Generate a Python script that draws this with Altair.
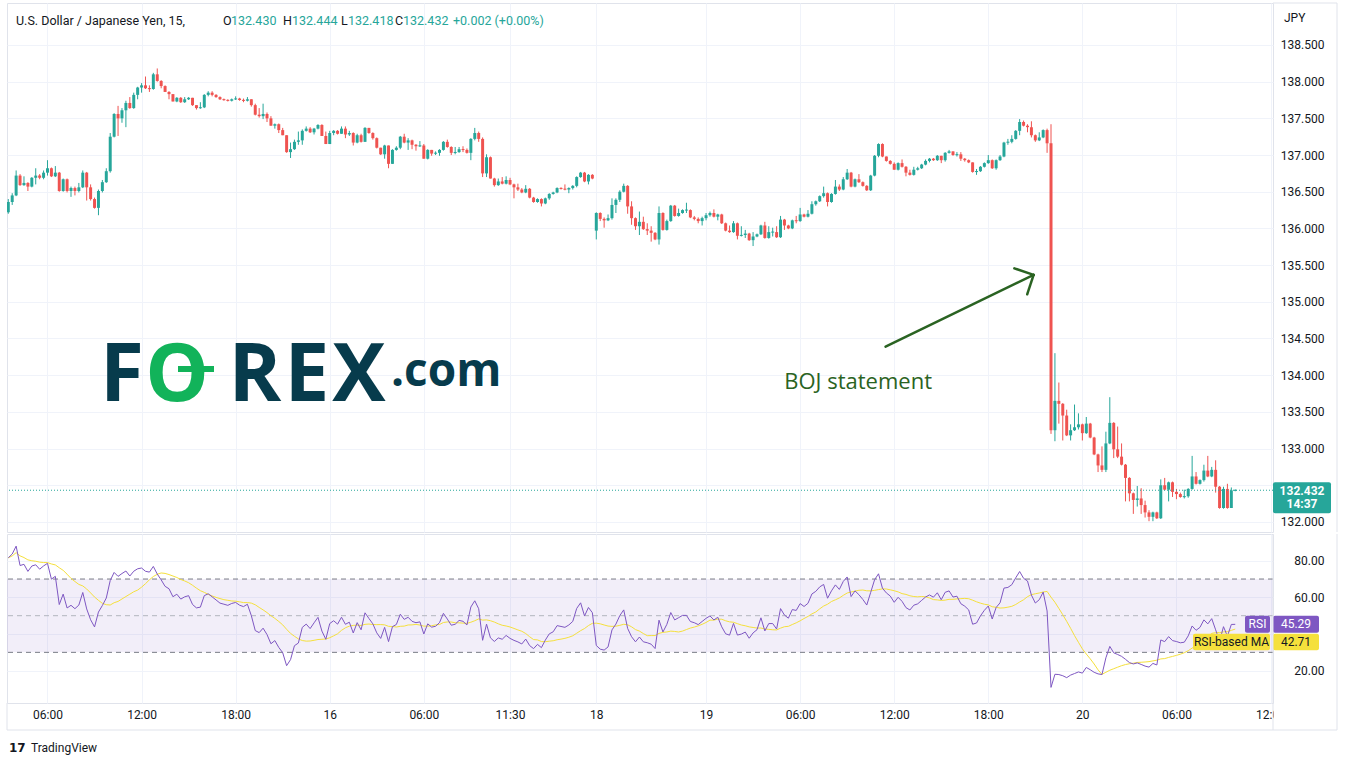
import altair as alt
import numpy as np
import pandas as pd

# USD/JPY 15-minute candles, one entry per session bar (Dec 15 03:30 -> Dec 20 09:45)
closes = [
    136.36, 136.45, 136.72, 136.59, 136.62, 136.57, 136.69, 136.72, 136.69, 136.76,
    136.82, 136.71, 136.76, 136.51, 136.67, 136.51, 136.55, 136.51, 136.56, 136.76,
    136.56, 136.40, 136.28, 136.51, 136.63, 136.78, 137.25, 137.56, 137.50, 137.61,
    137.71, 137.64, 137.82, 137.92, 137.95, 137.91, 137.90, 138.10, 138.01, 137.94,
    137.86, 137.83, 137.73, 137.78, 137.72, 137.76, 137.78, 137.68, 137.64, 137.65,
    137.82, 137.85, 137.82, 137.79, 137.76, 137.75, 137.74, 137.76, 137.77, 137.75,
    137.74, 137.76, 137.68, 137.55, 137.53, 137.56, 137.50, 137.40, 137.42, 137.34,
    137.27, 137.04, 137.08, 137.18, 137.20, 137.33, 137.36, 137.31, 137.36, 137.41,
    137.26, 137.15, 137.30, 137.33, 137.29, 137.36, 137.28, 137.30, 137.17, 137.27,
    137.18, 137.37, 137.30, 137.23, 137.10, 137.01, 137.13, 136.88, 137.07, 137.10,
    137.25, 137.17, 137.20, 137.14, 137.12, 137.13, 136.95, 137.07, 137.02, 137.03,
    137.07, 137.18, 137.11, 137.03, 137.04, 137.08, 137.07, 137.03, 137.22, 137.30,
    137.22, 136.75, 136.97, 136.68, 136.59, 136.64, 136.61, 136.66, 136.60, 136.56,
    136.53, 136.49, 136.54, 136.42, 136.36, 136.40, 136.34, 136.41, 136.47, 136.49,
    136.55, 136.54, 136.53, 136.55, 136.58, 136.70, 136.76, 136.64, 136.73, 136.68,
    136.21, 136.13, 136.11, 136.14, 136.32, 136.39, 136.50, 136.58, 136.30, 136.14,
    136.03, 136.09, 135.99, 135.97, 135.94, 135.85, 136.21, 135.98, 136.10, 136.31,
    136.17, 136.21, 136.25, 136.25, 136.15, 136.13, 136.10, 136.14, 136.18, 136.21,
    136.16, 136.19, 136.07, 135.97, 135.95, 136.07, 135.90, 135.91, 135.93, 135.84,
    135.89, 135.92, 136.04, 135.87, 135.95, 135.95, 135.88, 136.12, 136.04, 136.00,
    136.11, 136.10, 136.19, 136.16, 136.20, 136.33, 136.37, 136.44, 136.48, 136.36,
    136.47, 136.57, 136.53, 136.67, 136.76, 136.57, 136.67, 136.63, 136.58, 136.52,
    136.72, 136.99, 137.15, 136.98, 136.92, 136.88, 136.80, 136.89, 136.84, 136.76,
    136.73, 136.80, 136.82, 136.87, 136.92, 136.95, 136.93, 136.99, 136.93, 137.03,
    137.05, 137.00, 137.01, 136.95, 136.93, 136.90, 136.77, 136.78, 136.84, 136.89,
    136.93, 136.82, 136.93, 136.98, 137.17, 137.18, 137.22, 137.33, 137.45, 137.40,
    137.38, 137.27, 137.20, 137.24, 137.34, 137.16, 133.25, 133.65, 133.61, 133.45,
    133.18, 133.25, 133.29, 133.33, 133.21, 133.34, 133.15, 132.92, 132.77, 132.71,
    133.07, 133.35, 132.99, 132.89, 132.78, 132.60, 132.39, 132.30, 132.32, 132.23,
    132.13, 132.07, 132.13, 132.05, 132.50, 132.44, 132.54, 132.41, 132.38, 132.34,
    132.35, 132.45, 132.62, 132.52, 132.57, 132.70, 132.62, 132.71, 132.48, 132.19,
    132.45, 132.19, 132.43, 132.432,
]
highs = [
    136.40, 136.48, 136.79, 136.74, 136.71, 136.63, 136.70, 136.82, 136.74, 136.79,
    136.93, 136.83, 136.85, 136.77, 136.68, 136.68, 136.57, 136.57, 136.62, 136.79,
    136.77, 136.60, 136.42, 136.53, 136.66, 136.82, 137.30, 137.57, 137.67, 137.64,
    137.74, 137.79, 137.85, 137.93, 137.98, 138.07, 137.95, 138.12, 138.18, 138.02,
    137.95, 137.87, 137.83, 137.79, 137.79, 137.79, 137.79, 137.78, 137.68, 137.72,
    137.83, 137.87, 137.87, 137.83, 137.80, 137.77, 137.76, 137.77, 137.80, 137.78,
    137.77, 137.79, 137.76, 137.70, 137.64, 137.70, 137.58, 137.53, 137.43, 137.43,
    137.37, 137.27, 137.17, 137.21, 137.32, 137.35, 137.39, 137.38, 137.37, 137.42,
    137.42, 137.32, 137.33, 137.34, 137.34, 137.39, 137.39, 137.33, 137.31, 137.29,
    137.29, 137.38, 137.37, 137.31, 137.24, 137.10, 137.14, 137.13, 137.08, 137.12,
    137.26, 137.29, 137.23, 137.21, 137.15, 137.19, 137.15, 137.08, 137.07, 137.05,
    137.08, 137.19, 137.21, 137.12, 137.11, 137.11, 137.12, 137.09, 137.23, 137.37,
    137.32, 137.24, 137.01, 136.98, 136.69, 136.68, 136.70, 136.71, 136.69, 136.61,
    136.61, 136.55, 136.59, 136.55, 136.43, 136.41, 136.41, 136.42, 136.48, 136.50,
    136.56, 136.56, 136.60, 136.56, 136.59, 136.71, 136.77, 136.77, 136.74, 136.74,
    136.22, 136.22, 136.15, 136.19, 136.41, 136.41, 136.52, 136.61, 136.59, 136.37,
    136.15, 136.23, 136.16, 136.07, 136.03, 135.95, 136.30, 136.22, 136.12, 136.32,
    136.32, 136.27, 136.26, 136.35, 136.26, 136.17, 136.15, 136.16, 136.21, 136.23,
    136.26, 136.20, 136.20, 136.08, 136.04, 136.10, 136.08, 136.03, 135.98, 135.94,
    135.95, 135.93, 136.05, 136.09, 136.03, 136.01, 136.03, 136.17, 136.13, 136.05,
    136.12, 136.17, 136.28, 136.20, 136.25, 136.37, 136.38, 136.45, 136.57, 136.49,
    136.48, 136.66, 136.60, 136.70, 136.81, 136.77, 136.68, 136.74, 136.64, 136.59,
    136.73, 137.00, 137.16, 137.16, 136.98, 136.93, 136.90, 136.90, 136.94, 136.85,
    136.80, 136.84, 136.84, 136.88, 136.94, 136.96, 136.96, 137.00, 136.99, 137.04,
    137.07, 137.05, 137.04, 137.04, 136.96, 136.94, 136.90, 136.81, 136.85, 136.90,
    137.00, 136.94, 136.94, 137.00, 137.18, 137.22, 137.27, 137.34, 137.49, 137.47,
    137.42, 137.46, 137.28, 137.31, 137.35, 137.36, 137.42, 134.30, 133.90, 133.62,
    133.53, 133.33, 133.60, 133.48, 133.34, 133.43, 133.35, 133.16, 132.93, 133.03,
    133.23, 133.70, 133.36, 133.30, 133.07, 132.79, 132.61, 132.40, 132.49, 132.46,
    132.29, 132.16, 132.14, 132.14, 132.58, 132.60, 132.55, 132.55, 132.45, 132.40,
    132.44, 132.46, 132.90, 132.68, 132.58, 132.78, 132.90, 132.75, 132.84, 132.49,
    132.48, 132.52, 132.47, 132.444,
]
lows = [
    136.20, 136.32, 136.44, 136.58, 136.58, 136.51, 136.56, 136.60, 136.67, 136.67,
    136.72, 136.70, 136.70, 136.50, 136.50, 136.49, 136.43, 136.45, 136.49, 136.55,
    136.38, 136.38, 136.27, 136.18, 136.49, 136.62, 136.76, 137.24, 137.26, 137.44,
    137.38, 137.63, 137.63, 137.76, 137.85, 137.90, 137.86, 137.89, 138.00, 137.91,
    137.86, 137.76, 137.73, 137.72, 137.71, 137.71, 137.75, 137.67, 137.62, 137.63,
    137.64, 137.80, 137.80, 137.78, 137.75, 137.74, 137.73, 137.73, 137.75, 137.74,
    137.72, 137.73, 137.66, 137.54, 137.51, 137.49, 137.45, 137.40, 137.36, 137.30,
    137.27, 137.03, 136.96, 137.07, 137.14, 137.14, 137.32, 137.30, 137.28, 137.35,
    137.26, 137.15, 137.15, 137.27, 137.28, 137.29, 137.23, 137.26, 137.13, 137.16,
    137.17, 137.18, 137.29, 137.21, 137.09, 137.00, 136.95, 136.82, 136.88, 137.06,
    137.08, 137.16, 137.07, 137.08, 137.06, 137.11, 136.95, 136.94, 136.99, 137.00,
    136.99, 137.06, 137.10, 137.00, 137.01, 137.03, 137.04, 137.02, 136.93, 137.20,
    137.18, 136.70, 136.70, 136.68, 136.57, 136.58, 136.60, 136.60, 136.59, 136.41,
    136.51, 136.48, 136.48, 136.41, 136.35, 136.35, 136.30, 136.33, 136.39, 136.46,
    136.48, 136.53, 136.52, 136.48, 136.53, 136.56, 136.69, 136.63, 136.60, 136.67,
    135.85, 136.10, 136.01, 136.10, 136.12, 136.21, 136.36, 136.49, 136.20, 136.05,
    135.98, 135.91, 135.98, 135.91, 135.82, 135.84, 135.78, 135.97, 135.97, 136.09,
    136.16, 136.16, 136.20, 136.21, 136.14, 136.11, 136.07, 136.04, 136.11, 136.16,
    136.15, 136.11, 136.06, 135.96, 135.94, 135.94, 135.85, 135.89, 135.87, 135.83,
    135.76, 135.88, 135.91, 135.86, 135.86, 135.89, 135.87, 135.87, 135.98, 135.99,
    135.99, 136.07, 136.09, 136.15, 136.15, 136.19, 136.31, 136.36, 136.42, 136.30,
    136.35, 136.46, 136.51, 136.52, 136.66, 136.56, 136.56, 136.62, 136.57, 136.51,
    136.51, 136.71, 136.97, 136.97, 136.91, 136.87, 136.80, 136.79, 136.83, 136.71,
    136.72, 136.72, 136.79, 136.81, 136.86, 136.90, 136.92, 136.92, 136.89, 136.91,
    137.02, 136.99, 136.98, 136.92, 136.91, 136.89, 136.76, 136.73, 136.77, 136.83,
    136.88, 136.81, 136.80, 136.92, 136.97, 137.14, 137.16, 137.21, 137.27, 137.39,
    137.31, 137.24, 137.18, 137.19, 137.23, 137.03, 133.20, 133.10, 133.34, 133.11,
    133.17, 133.11, 133.24, 133.26, 133.11, 133.20, 133.14, 132.91, 132.68, 132.68,
    132.68, 133.06, 132.87, 132.87, 132.77, 132.28, 132.28, 132.11, 132.21, 132.11,
    132.06, 132.01, 132.01, 132.04, 132.04, 132.43, 132.28, 132.34, 132.31, 132.33,
    132.32, 132.33, 132.44, 132.51, 132.51, 132.55, 132.61, 132.61, 132.40, 132.18,
    132.18, 132.18, 132.24, 132.418,
]
first_open = 136.22      # open of the first bar shown
gap_index = 150          # Sunday re-open bar
gap_open = 135.97

# time axis
tick_index = [10, 34, 58, 82, 106, 128, 150, 178, 202, 226, 250, 274, 298, 322]
tick_labels = ["06:00", "12:00", "18:00", "16", "06:00", "11:30", "18", "19",
               "06:00", "12:00", "18:00", "20", "06:00", "12:00"]
price_ticks = [132.0, 132.5, 133.0, 133.5, 134.0, 134.5, 135.0, 135.5,
               136.0, 136.5, 137.0, 137.5, 138.0, 138.5]
price_hidden = [132.5]      # label sits under the last-price tag
rsi_ticks = [20, 40, 60, 80]
rsi_hidden = [40]           # label sits under the RSI tags
rsi_outer = [30, 70]
rsi_mid = [50]
rsi_len = 14
ma_len = 14
seed_gain = 0.038
seed_loss = 0.011
countdown = "14:37"

# annotation: arrow pointing at the BOJ drop (bar index, price)
arrow_x = [223.8, 261.56, 261.56]
arrow_y = [134.388, 135.367, 135.367]
arrow_x2 = [261.56, 256.65, 259.92]
arrow_y2 = [135.367, 135.456, 135.102]
note_x, note_y, note_text = 216.8, 133.907, "BOJ statement"

# ---------------------------------------------------------------- styling
UP, DOWN = "#26a69a", "#ef5350"
TEXT = "#131722"
GRID = "#f0f3fa"
BORDER = "#e0e3eb"
RSI_C, MA_C = "#7e57c2", "#f5e03c"
FONT = "Roboto"
W, H_TOP, H_BOT = 1266, 529, 169

# ---------------------------------------------------------------- derived data
n = len(closes)
opens = [first_open] + closes[:-1]
opens[gap_index] = gap_open

df = pd.DataFrame({"i": np.arange(n), "o": opens, "h": highs, "l": lows, "c": closes})
df["h"] = df[["h", "o", "c"]].max(axis=1)
df["l"] = df[["l", "o", "c"]].min(axis=1)
df["dir"] = np.where(df.c >= df.o, "up", "down")
df["b0"] = df[["o", "c"]].min(axis=1)
df["b1"] = df[["o", "c"]].max(axis=1)
thin = (df.b1 - df.b0) < 0.014
mid = (df.b0 + df.b1) / 2
df.loc[thin, "b0"] = mid[thin] - 0.007
df.loc[thin, "b1"] = mid[thin] + 0.007
df["x0"] = df.i - 0.38
df["x1"] = df.i + 0.38

# Wilder RSI on closes and its simple moving average
ag, al = seed_gain, seed_loss
prev = first_open
rsi = []
for c in closes:
    ch = c - prev
    ag = (ag * (rsi_len - 1) + max(ch, 0.0)) / rsi_len
    al = (al * (rsi_len - 1) + max(-ch, 0.0)) / rsi_len
    rsi.append(100.0 - 100.0 / (1.0 + ag / al) if al > 0 else 100.0)
    prev = c
df["rsi"] = rsi
df["ma"] = pd.Series(rsi).rolling(ma_len, min_periods=1).mean()

xscale = alt.Scale(domain=[-0.33, 322.63], nice=False, zero=False)
pscale = alt.Scale(domain=[131.863, 139.072], nice=False, zero=False)
rscale = alt.Scale(domain=[2.37, 94.57], nice=False, zero=False)
dir_color = alt.Color("dir:N", scale=alt.Scale(domain=["up", "down"], range=[UP, DOWN]), legend=None)

label_expr = ("[" + ",".join(f"'{s}'" for s in tick_labels) + "][indexof(["
              + ",".join(str(v) for v in tick_index) + "], datum.value)]")


def hide_expr(hidden, fmt):
    return ("indexof([" + ",".join(str(v) for v in hidden) + "], datum.value) >= 0 ? '' : "
            f"format(datum.value, '{fmt}')")


# one axis definition per pane, shared by every layer that uses the scale
price_axis = alt.Axis(
    orient="right", values=price_ticks, labelExpr=hide_expr(price_hidden, ".3f"),
    grid=True, gridColor=GRID, ticks=False, domain=False, labelPadding=51,
    labelAlign="right", labelColor=TEXT, labelFontSize=12, labelFont=FONT, title=None)
rsi_axis = alt.Axis(
    orient="right", values=rsi_ticks, labelExpr=hide_expr(rsi_hidden, ".2f"),
    grid=True, gridColor=GRID, ticks=False, domain=False, labelPadding=51,
    labelAlign="right", labelColor=TEXT, labelFontSize=12, labelFont=FONT, title=None)
time_axis = alt.Axis(
    values=tick_index, labelExpr=label_expr, grid=True, gridColor=GRID, ticks=False,
    domain=False, labelPadding=6, labelFontSize=12, labelColor=TEXT, labelFont=FONT,
    labelFlush=False, labelOverlap=False, title=None)
top_x_axis = alt.Axis(
    values=tick_index, grid=True, gridColor=GRID, ticks=False, domain=False,
    labels=False, title=None)


def PX(field):
    return alt.X(field, scale=xscale, axis=top_x_axis)


def PY(field):
    return alt.Y(field, scale=pscale, axis=price_axis)


def RX(field):
    return alt.X(field, scale=xscale, axis=time_axis)


def RY(field):
    return alt.Y(field, scale=rscale, axis=rsi_axis)


def label(text, x, y, size=12, color=TEXT, align="left", weight="normal",
          font=FONT, baseline="middle"):
    return alt.Chart(pd.DataFrame({"t": [text]})).mark_text(
        align=align, baseline=baseline, fontSize=size, color=color,
        fontWeight=weight, font=font
    ).encode(x=alt.value(x), y=alt.value(y), text="t:N")


def pix_rule(x, y, x2, y2, color=BORDER, width=1):
    return alt.Chart(pd.DataFrame({"k": [0]})).mark_rule(color=color, strokeWidth=width).encode(
        x=alt.value(x), y=alt.value(y), x2=alt.value(x2), y2=alt.value(y2))


# ---------------------------------------------------------------- price pane
wicks = alt.Chart(df).mark_rule(strokeWidth=1, clip=True).encode(
    x=PX("i:Q"), y=PY("l:Q"), y2="h:Q", color=dir_color)
bodies = alt.Chart(df).mark_rect(clip=True).encode(
    x=PX("x0:Q"), x2="x1:Q", y=PY("b0:Q"), y2="b1:Q", color=dir_color)

last_df = pd.DataFrame({"p": [closes[-1]], "lbl": [f"{closes[-1]:.3f}"], "cd": [countdown]})
last_line = alt.Chart(last_df).mark_rule(color=UP, strokeDash=[1, 2], strokeWidth=1).encode(
    y=PY("p:Q"))
last_tag = alt.Chart(last_df).mark_rect(color=UP, cornerRadius=2, yOffset=-8, y2Offset=23).encode(
    x=alt.value(W), x2=alt.value(W + 58), y=PY("p:Q"), y2="p:Q")
last_txt = alt.Chart(last_df).mark_text(color="white", fontSize=12, fontWeight="bold",
                                        font=FONT, align="center", dy=1).encode(
    x=alt.value(W + 29), y=PY("p:Q"), text="lbl:N")
last_cd = alt.Chart(last_df).mark_text(color="white", fontSize=12, fontWeight="bold",
                                       font=FONT, align="center", dy=14).encode(
    x=alt.value(W + 29), y=PY("p:Q"), text="cd:N")

arrow_df = pd.DataFrame({"x": arrow_x, "y": arrow_y, "x2": arrow_x2, "y2": arrow_y2})
arrow = alt.Chart(arrow_df).mark_rule(color="#2a6322", strokeWidth=2.5, strokeCap="round").encode(
    x=PX("x:Q"), x2="x2:Q", y=PY("y:Q"), y2="y2:Q")
note = alt.Chart(pd.DataFrame({"x": [note_x], "y": [note_y], "t": [note_text]})).mark_text(
    color="#2a6322", fontSize=22, font="Open Sans", align="center", baseline="middle").encode(
    x=PX("x:Q"), y=PY("y:Q"), text="t:N")

# FOREX.com watermark
NAVY, GREEN = "#073b4c", "#12b35a"
logo = [
    label("F", 115, 398, size=80, color=NAVY, align="center", weight="bold",
          font="Open Sans", baseline="alphabetic"),
    label("O", 170, 398, size=80, color=GREEN, align="center", weight="bold",
          font="Open Sans", baseline="alphabetic"),
    pix_rule(171, 366, 207, 366, color=GREEN, width=6),
    label("R", 248, 398, size=80, color=NAVY, align="center", weight="bold",
          font="Open Sans", baseline="alphabetic"),
    label("E", 300, 398, size=80, color=NAVY, align="center", weight="bold",
          font="Open Sans", baseline="alphabetic"),
    label("X", 352, 398, size=80, color=NAVY, align="center", weight="bold",
          font="Open Sans", baseline="alphabetic"),
    label(".com", 384, 383, size=46, color=NAVY, align="left", weight="bold",
          font="Open Sans", baseline="alphabetic"),
]

# legend line
o_, h_, l_, c_ = opens[-1], highs[-1], lows[-1], closes[-1]
chg = closes[-1] - closes[-2]
header = [
    label("U.S. Dollar / Japanese Yen, 15,", 9, 18, size=12.5),
    label("O", 216, 18, size=12.5), label(f"{o_:.3f}", 224, 18, size=12.5, color=UP),
    label("H", 276, 18, size=12.5), label(f"{h_:.3f}", 285, 18, size=12.5, color=UP),
    label("L", 334, 18, size=12.5), label(f"{l_:.3f}", 341, 18, size=12.5, color=UP),
    label("C", 388, 18, size=12.5), label(f"{c_:.3f}", 396, 18, size=12.5, color=UP),
    label(f"{chg:+.3f} ({chg / closes[-2] * 100:+.2f}%)", 446, 18, size=12.5, color=UP),
    label("JPY", 1277, 15, size=12),
]

frame_top = [
    pix_rule(W, 0, W + 64, 0),
    pix_rule(W + 64, 0, W + 64, H_TOP),
]

top = alt.layer(
    wicks, bodies, last_line, arrow, note, *logo, *header,
    last_tag, last_txt, last_cd, *frame_top,
).properties(width=W, height=H_TOP)

# ---------------------------------------------------------------- RSI pane
band = alt.Chart(pd.DataFrame({"lo": [rsi_outer[0]], "hi": [rsi_outer[1]]})).mark_rect(
    color=RSI_C, opacity=0.1).encode(
    x=alt.value(0), x2=alt.value(W), y=RY("lo:Q"), y2="hi:Q")
outer_lines = alt.Chart(pd.DataFrame({"v": rsi_outer})).mark_rule(
    color="#787b86", strokeDash=[5, 4]).encode(y=RY("v:Q"))
mid_line = alt.Chart(pd.DataFrame({"v": rsi_mid})).mark_rule(
    color="#b2b5be", strokeDash=[5, 4]).encode(y=RY("v:Q"))

ma_line = alt.Chart(df).mark_line(color=MA_C, strokeWidth=1, clip=True).encode(
    x=RX("i:Q"), y=RY("ma:Q"))
rsi_line = alt.Chart(df).mark_line(color=RSI_C, strokeWidth=1, clip=True).encode(
    x=RX("i:Q"), y=RY("rsi:Q"))

tag_df = pd.DataFrame({"v": [rsi[-1]], "r": [f"{rsi[-1]:.2f}"], "m": [f"{df['ma'].iloc[-1]:.2f}"],
                       "rn": ["RSI"], "mn": ["RSI-based MA"]})
tags = [
    alt.Chart(tag_df).mark_rect(color=RSI_C, cornerRadius=2, yOffset=-8.5, y2Offset=8.5).encode(
        x=alt.value(W - 28), x2=alt.value(W - 3), y=RY("v:Q"), y2="v:Q"),
    alt.Chart(tag_df).mark_rect(color=RSI_C, cornerRadius=2, yOffset=-8.5, y2Offset=8.5).encode(
        x=alt.value(W), x2=alt.value(W + 46), y=RY("v:Q"), y2="v:Q"),
    alt.Chart(tag_df).mark_rect(color=MA_C, cornerRadius=2, yOffset=9.5, y2Offset=26).encode(
        x=alt.value(W - 80), x2=alt.value(W - 3), y=RY("v:Q"), y2="v:Q"),
    alt.Chart(tag_df).mark_rect(color=MA_C, cornerRadius=2, yOffset=9.5, y2Offset=26).encode(
        x=alt.value(W), x2=alt.value(W + 46), y=RY("v:Q"), y2="v:Q"),
    alt.Chart(tag_df).mark_text(color="white", fontSize=12, font=FONT, align="center", dy=0).encode(
        x=alt.value(W - 15.5), y=RY("v:Q"), text="rn:N"),
    alt.Chart(tag_df).mark_text(color="white", fontSize=12, font=FONT, align="center", dy=0).encode(
        x=alt.value(W + 23), y=RY("v:Q"), text="r:N"),
    alt.Chart(tag_df).mark_text(color=TEXT, fontSize=12, font=FONT, align="center", dy=18).encode(
        x=alt.value(W - 41.5), y=RY("v:Q"), text="mn:N"),
    alt.Chart(tag_df).mark_text(color=TEXT, fontSize=12, font=FONT, align="center", dy=18).encode(
        x=alt.value(W + 23), y=RY("v:Q"), text="m:N"),
]

cover = alt.Chart(pd.DataFrame({"k": [0]})).mark_rect(color="white").encode(
    x=alt.value(W + 1), x2=alt.value(W + 63), y=alt.value(H_BOT + 1), y2=alt.value(H_BOT + 26))

frame_bot = [
    pix_rule(0, H_BOT + 27, W + 64, H_BOT + 27),
    pix_rule(W, 0, W, H_BOT + 27),
    pix_rule(W + 64, 0, W + 64, H_BOT + 27),
    pix_rule(0, H_BOT, 0, H_BOT + 27),
]

brand = [
    label("17", 2, 214, size=12, weight="bold", font="DejaVu Sans"),
    label("TradingView", 24, 214, size=12),
]

bottom = alt.layer(
    band, outer_lines, mid_line, ma_line, rsi_line, *tags, cover, *frame_bot, *brand,
).properties(width=W, height=H_BOT)

chart = alt.vconcat(top, bottom, spacing=0).properties(
    padding={"left": 6, "top": 2, "right": 0, "bottom": 0}, background="white"
).configure_view(stroke=BORDER, strokeWidth=1)

chart.save("out.html", embed_options={"renderer": "svg", "actions": False})
